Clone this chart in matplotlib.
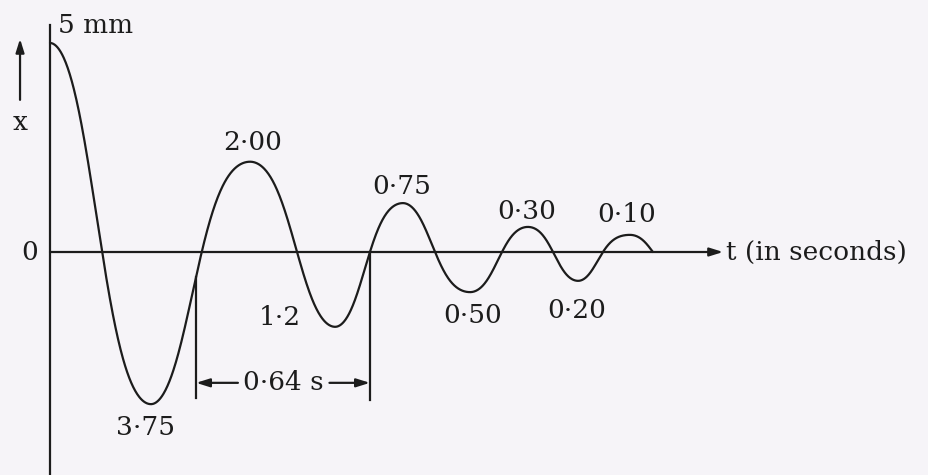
import numpy as np
import matplotlib
matplotlib.use("Agg")
import matplotlib.pyplot as plt

# ---- data (time in s, displacement in mm as drawn) ----
ext_t = [0.0, 0.374, 0.741, 1.056, 1.307, 1.556, 1.770, 1.956, 2.148]
ext_x = [5.0, -3.64, 2.16, -1.79, 1.17, -0.96, 0.60, -0.69, 0.41]
zero_t = [0.193, 0.562, 0.915, 1.185, 1.426, 1.674, 1.863, 2.048, 2.233]
peak_labels = ["5 mm", "3·75", "2·00", "1·2", "0·75", "0·50", "0·30", "0·20", "0·10"]
label_t = [0.03, 0.352, 0.752, 0.852, 1.304, 1.567, 1.767, 1.952, 2.137]
label_x = [5.43, -4.21, 2.61, -1.56, 1.56, -1.51, 0.96, -1.39, 0.89]
period_start, period_end = 0.541, 1.185
period_label = "0·64 s"

INK = "#1c1c1c"
BG = "#f6f4f8"
plt.rcParams['font.family'] = ['DejaVu Serif']
FS = 19

fig = plt.figure(figsize=(9.29, 4.75), dpi=100, facecolor=BG)
ax = fig.add_axes([0, 0, 1, 1])
ax.set_facecolor(BG)
ax.set_xlim(-0.1852, 3.2556)
ax.set_ylim(-5.335, 6.029)
ax.axis('off')

# smooth hand-drawn-like curve through the read extrema and zero crossings
B_FLAT = 0.15
grid = np.linspace(0, 1, 2001)
S = lambda w: w - B_FLAT * np.sin(2 * np.pi * w) / (2 * np.pi)
Sg = S(grid)

ts, xs = [], []
for i in range(len(ext_t) - 1):
    ta, tb, A, B = ext_t[i], ext_t[i + 1], ext_x[i], ext_x[i + 1]
    c, r = (A + B) / 2, (A - B) / 2
    sz = (zero_t[i] - ta) / (tb - ta)
    wz = np.arccos(-c / r) / np.pi
    Wt = np.interp(wz, Sg, grid)
    a = (Wt - sz) / (sz * (1 - sz))
    a = max(min(a, 0.9), -0.9)
    s = np.linspace(0, 1, 200)
    W = s + a * s * (1 - s)
    ts.extend(ta + s * (tb - ta)); xs.extend(c + r * np.cos(np.pi * S(W)))
s = np.linspace(0, 1, 100)
ts.extend(ext_t[-1] + s * (zero_t[-1] - ext_t[-1])); xs.extend(ext_x[-1] * np.cos(np.pi * S(s / 2)))
ts = np.array(ts); xs = np.array(xs)
ax.plot(ts, xs, color=INK, lw=1.6, solid_capstyle='round')

# axes
ax.plot([0, 0], [-6, 5.43], color=INK, lw=1.6)
ax.annotate("", xy=(2.493, 0), xytext=(0, 0),
            arrowprops=dict(arrowstyle="-|>,head_length=0.8,head_width=0.25", color=INK, lw=1.6,
                            shrinkA=0, shrinkB=0))
ax.text(2.505, 0, "t (in seconds)", fontsize=FS, color=INK, ha='left', va='center')
ax.annotate("", xy=(-0.111, 5.1), xytext=(-0.111, 3.64),
            arrowprops=dict(arrowstyle="-|>,head_length=0.8,head_width=0.25", color=INK, lw=1.6,
                            shrinkA=0, shrinkB=0))
ax.text(-0.111, 3.09, "x", fontsize=FS, color=INK, ha='center', va='center')
ax.text(-0.074, 0, "0", fontsize=FS, color=INK, ha='center', va='center')

# peak labels
for lt, lx, lab in zip(label_t, label_x, peak_labels):
    ha = 'left' if lab.endswith("mm") else 'center'
    ax.text(lt, lx, lab, fontsize=FS, color=INK, ha=ha, va='center')

# period marker
y0 = np.interp(period_start, ts, xs)
ax.plot([period_start, period_start], [y0, -3.49], color=INK, lw=1.6)
ax.plot([period_end, period_end], [0, -3.54], color=INK, lw=1.6)
ya = -3.13
mid = 0.5 * (period_start + period_end)
ax.text(mid, ya, period_label, fontsize=FS, color=INK, ha='center', va='center')
ax.annotate("", xy=(period_start, ya), xytext=(period_start + 0.155, ya),
            arrowprops=dict(arrowstyle="-|>,head_length=0.8,head_width=0.25", color=INK, lw=1.6,
                            shrinkA=0, shrinkB=0))
ax.annotate("", xy=(period_end, ya), xytext=(period_end - 0.15, ya),
            arrowprops=dict(arrowstyle="-|>,head_length=0.8,head_width=0.25", color=INK, lw=1.6,
                            shrinkA=0, shrinkB=0))

fig.savefig("out.png", dpi=100, facecolor=BG)
